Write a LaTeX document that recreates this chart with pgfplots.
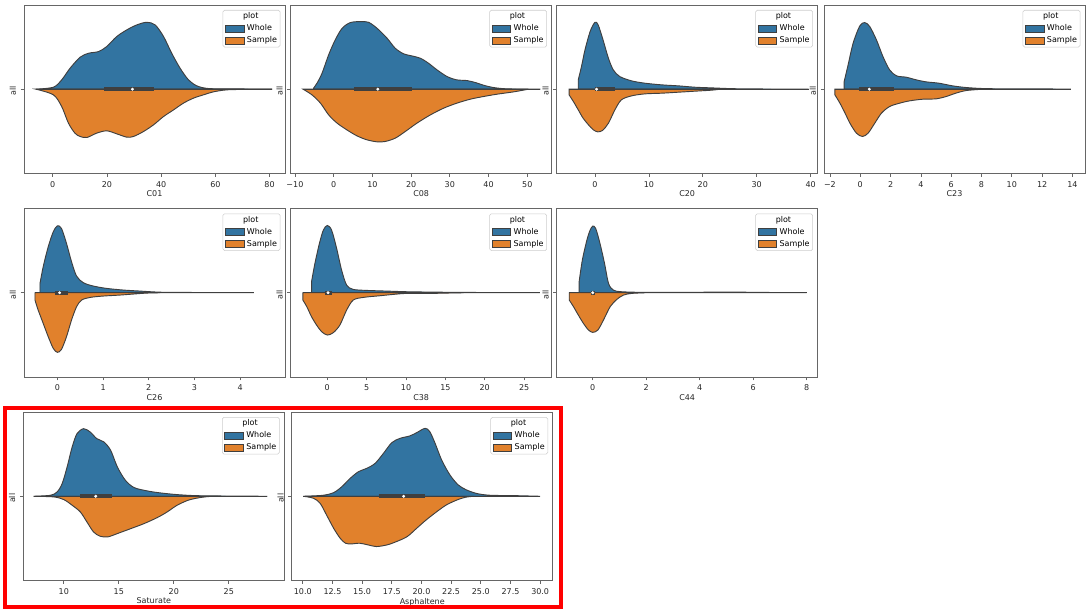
\documentclass[border=0pt]{standalone}
\usepackage{fontspec}
\setmainfont{DejaVu Sans}
\usepackage{pgfplots}
\pgfplotsset{compat=1.18}
\definecolor{cblue}{HTML}{3274A1}
\definecolor{corange}{HTML}{E1812C}
\definecolor{cedge}{HTML}{3F3F3F}
\pgfplotsset{
  vio/.style={
    scale only axis, width=195.75pt, height=126.4pt, anchor=south west,
    ymin=-253, ymax=253, ytick={0}, yticklabels={all},
    yticklabel style={rotate=90, anchor=south, xshift=-1.5pt},
    tick align=outside, major tick length=2.5pt,
    xtick pos=bottom, ytick pos=left,
    tick style={black!60, line width=0.5pt},
    axis line style={black!60, line width=0.6pt},
    /pgf/number format/assume math mode=true,
    tick label style={font=\fontsize{6}{7}\selectfont, text=black!85},
    label style={font=\fontsize{6}{7}\selectfont, text=black!85},
    xlabel style={yshift=4.3pt},
    legend style={at={(rel axis cs:0.982,0.97)}, anchor=north east, draw=black!20, fill=white,
      rounded corners=1.2pt, font=\fontsize{6}{7}\selectfont, inner xsep=1.5pt, inner ysep=1pt,
      row sep=1.3pt, nodes={inner sep=0.8pt}, cells={anchor=west},
      /tikz/every odd column/.append style={column sep=1.2pt}},
    legend image code/.code={\draw[#1, line width=0.5pt, sharp corners] (0pt,-2.6pt) rectangle (14pt,2.6pt);},
  },
  whole/.style={fill=cblue, draw=cedge, line width=0.7pt, smooth, tension=0.5},
  sample/.style={fill=corange, draw=cedge, line width=0.7pt, smooth, tension=0.5},
  whisk/.style={forget plot, draw=cedge, line width=0.9pt},
  boxb/.style={forget plot, draw=cedge, line width=2.8pt},
  med/.style={forget plot, only marks, mark=*, mark size=0.9pt, mark options={fill=white, draw=white}},
}
\begin{document}
\begin{tikzpicture}
\path[use as bounding box] (0,0) rectangle (816.75pt,-457.5pt);
% ---------------- C01
\begin{axis}[vio, at={(18pt,-130.1pt)}, xmin=-10.6, xmax=85.7, xtick={0,20,40,60,80}, xlabel={C01}]
\addlegendimage{empty legend}\addlegendentry{\hspace*{-2.9pt}plot}
\addplot[whole] coordinates {(-6.2,0) (0.25,6) (3.3,28) (6.4,63) (10.1,96) (13.2,108) (16.9,113) (19.9,128) (23.6,158) (27.3,178) (31,193) (34.7,201) (37.8,193) (40.9,158) (43.9,108) (47,63) (50.1,28) (53.2,10) (57.5,2) (66.7,1) (80.9,0)} \closedcycle;
\addlegendentry{Whole}
\addplot[sample] coordinates {(-6.15,0) (0.25,-17) (3.3,-52) (5.8,-102) (8.2,-132) (10.1,-142) (12.6,-145) (16.2,-132) (19.9,-125) (23.6,-134) (27.3,-144) (29.8,-142) (33.5,-127) (37.2,-107) (40.9,-82) (44.6,-62) (48.2,-42) (51.9,-27) (55.6,-17) (59.3,-8) (64.2,-2) (72,-0.5) (80.9,0)} \closedcycle;
\addlegendentry{Sample}
\addplot[whisk] coordinates {(-6.2,0) (80.9,0)};
\addplot[boxb] coordinates {(19,0) (37.4,0)};
\addplot[med] coordinates {(29.4,0)};
\end{axis}
% ---------------- C08
\begin{axis}[vio, at={(218pt,-130.1pt)}, xmin=-11.1, xmax=56.3, xtick={-10,0,10,20,30,40,50}, xticklabels={−10,0,10,20,30,40,50}, xlabel={C08}]
\addlegendimage{empty legend}\addlegendentry{\hspace*{-2.9pt}plot}
\addplot[whole] coordinates {(-5.2,3) (-4.3,18) (-3.0,48) (-1.3,103) (0.4,148) (2.2,183) (4.3,200) (6.9,203) (9.0,201) (11.2,183) (13.8,153) (15.9,123) (18.1,106) (20.2,100) (22.4,93) (24.5,78) (26.7,58) (29.3,38) (31.8,28) (34.4,26) (36.6,20) (38.7,12) (41.3,5) (44.8,1) (50.8,0.5) (53.4,0)} \closedcycle;
\addlegendentry{Whole}
\addplot[sample] coordinates {(-7.9,0) (-5.6,-17) (-3.4,-42) (-1.3,-77) (0.9,-102) (3.4,-122) (6.0,-140) (8.6,-152) (11.2,-158) (13.3,-157) (15.9,-147) (18.5,-127) (21.5,-102) (25.0,-77) (28.4,-57) (31.8,-42) (35.3,-30) (38.7,-22) (42.2,-15) (46.5,-8) (50.3,0)} \closedcycle;
\addlegendentry{Sample}
\addplot[whisk] coordinates {(-7.9,0) (53.4,0)};
\addplot[boxb] coordinates {(5.2,0) (20.2,0)};
\addplot[med] coordinates {(11.4,0)};
\end{axis}
% ---------------- C20
\begin{axis}[vio, at={(417.5pt,-130.1pt)}, xmin=-7.1, xmax=41.3, xtick={0,10,20,30,40}, xlabel={C20}]
\addlegendimage{empty legend}\addlegendentry{\hspace*{-2.9pt}plot}
\addplot[whole] coordinates {(-3.1,28) (-2.5,68) (-1.85,118) (-0.9,173) (0,201) (0.6,193) (1.5,148) (2.5,93) (3.4,58) (4.6,38) (6.8,25) (9.3,18) (12.4,13) (15.5,10) (18.5,6) (21.6,4) (24.7,2) (27.8,1) (34,0.5) (39.6,0)} \closedcycle;
\addlegendentry{Whole}
\addplot[sample] coordinates {(-4.8,-17) (-4.0,-37) (-3.1,-62) (-2.2,-87) (-1.2,-107) (-0.3,-122) (0.5,-128) (1.4,-124) (2.5,-102) (3.7,-62) (4.9,-32) (6.8,-20) (9.3,-14) (12.4,-12) (15.5,-9) (18.5,-6) (21.6,-3) (23.2,0)} \closedcycle;
\addlegendentry{Sample}
\addplot[whisk] coordinates {(-4.8,0) (39.6,0)};
\addplot[boxb] coordinates {(0,0) (3.7,0)};
\addplot[med] coordinates {(0.3,0)};
\end{axis}
% ---------------- C23
\begin{axis}[vio, at={(618pt,-130.1pt)}, xmin=-2.39, xmax=14.83, xtick={-2,0,2,4,6,8,10,12,14}, xticklabels={−2,0,2,4,6,8,10,12,14}, xlabel={C23}]
\addlegendimage{empty legend}\addlegendentry{\hspace*{-2.9pt}plot}
\addplot[whole] coordinates {(-1.06,23) (-0.8,73) (-0.47,138) (-0.03,190) (0.3,200) (0.63,188) (1.07,148) (1.5,98) (1.94,58) (2.4,40) (3.04,36) (3.7,28) (4.36,22) (5.2,18) (6.1,10) (7.0,5) (8.1,2) (9.8,1) (12.0,1) (13.9,0)} \closedcycle;
\addlegendentry{Whole}
\addplot[sample] coordinates {(-1.67,-17) (-1.34,-42) (-1.0,-72) (-0.68,-102) (-0.25,-132) (0.15,-142) (0.52,-132) (0.96,-102) (1.4,-72) (1.94,-52) (2.6,-42) (3.26,-35) (4.14,-30) (5.0,-29) (5.67,-22) (6.3,-12) (7.0,-4) (8.1,0)} \closedcycle;
\addlegendentry{Sample}
\addplot[whisk] coordinates {(-1.67,0) (13.9,0)};
\addplot[boxb] coordinates {(-0.07,0) (2.2,0)};
\addplot[med] coordinates {(0.6,0)};
\end{axis}
% ---------------- C26
\begin{axis}[vio, at={(18pt,-282.75pt)}, xmin=-0.73, xmax=4.98, xtick={0,1,2,3,4}, xlabel={C26}]
\addlegendimage{empty legend}\addlegendentry{\hspace*{-2.9pt}plot}
\addplot[whole] coordinates {(-0.38,28) (-0.31,78) (-0.2,138) (-0.09,183) (0,201) (0.09,193) (0.2,148) (0.31,93) (0.42,50) (0.57,30) (0.79,20) (1.08,13) (1.45,8) (1.81,5) (2.18,2) (2.54,1) (3.85,0.5) (4.3,0)} \closedcycle;
\addlegendentry{Whole}
\addplot[sample] coordinates {(-0.49,-22) (-0.42,-52) (-0.31,-92) (-0.2,-132) (-0.09,-167) (0,-179) (0.09,-170) (0.2,-132) (0.31,-82) (0.42,-42) (0.53,-22) (0.72,-14) (1.0,-10) (1.37,-7) (1.66,-4) (1.96,-1) (2.25,0)} \closedcycle;
\addlegendentry{Sample}
\addplot[whisk] coordinates {(-0.49,0) (4.3,0)};
\addplot[boxb] coordinates {(-0.05,0) (0.24,0)};
\addplot[med] coordinates {(0.05,0)};
\end{axis}
% ---------------- C38
\begin{axis}[vio, at={(218pt,-282.75pt)}, xmin=-4.65, xmax=28.5, xtick={0,5,10,15,20,25}, xlabel={C38}]
\addlegendimage{empty legend}\addlegendentry{\hspace*{-2.9pt}plot}
\addplot[whole] coordinates {(-2.0,33) (-1.57,88) (-1.0,148) (-0.5,188) (0,202) (0.55,188) (1.19,133) (1.82,68) (2.46,23) (3.3,10) (5.0,7) (7.5,5) (10.1,3) (13.1,2) (17.3,1) (27,0)} \closedcycle;
\addlegendentry{Whole}
\addplot[sample] coordinates {(-3.1,-22) (-2.6,-42) (-2.0,-72) (-1.36,-97) (-0.72,-117) (0,-127) (0.76,-120) (1.6,-97) (2.46,-52) (3.3,-22) (4.6,-14) (6.7,-9) (8.4,-5) (10.1,-2) (13.1,-2) (15.2,-1) (17.3,0)} \closedcycle;
\addlegendentry{Sample}
\addplot[whisk] coordinates {(-3.1,0) (27,0)};
\addplot[boxb] coordinates {(-0.3,0) (0.6,0)};
\addplot[med] coordinates {(0.1,0)};
\end{axis}
% ---------------- C44
\begin{axis}[vio, at={(417.5pt,-282.75pt)}, xmin=-1.35, xmax=8.41, xtick={0,2,4,6,8}, xlabel={C44}]
\addlegendimage{empty legend}\addlegendentry{\hspace*{-2.9pt}plot}
\addplot[whole] coordinates {(-0.51,33) (-0.39,98) (-0.22,158) (-0.1,188) (0,200) (0.11,193) (0.27,148) (0.44,88) (0.59,28) (0.77,8) (1.08,3) (1.96,1) (3.2,1) (5.07,2) (6.3,1) (8.0,0)} \closedcycle;
\addlegendentry{Whole}
\addplot[sample] coordinates {(-0.88,-22) (-0.72,-42) (-0.54,-67) (-0.35,-92) (-0.16,-112) (0,-119) (0.19,-112) (0.4,-82) (0.65,-42) (0.9,-20) (1.15,-7) (1.46,-2) (1.96,0)} \closedcycle;
\addlegendentry{Sample}
\addplot[whisk] coordinates {(-0.88,0) (8.0,0)};
\addplot[boxb] coordinates {(-0.05,0) (0.1,0)};
\addplot[med] coordinates {(0,0)};
\end{axis}
% ---------------- Saturate
\begin{axis}[vio, at={(17.5pt,-435.4pt)}, xmin=6.32, xmax=30.05, xtick={10,15,20,25}, xlabel={Saturate}]
\addlegendimage{empty legend}\addlegendentry{\hspace*{-2.9pt}plot}
\addplot[whole] coordinates {(7.26,0) (8.78,3) (9.39,13) (9.85,38) (10.3,88) (10.76,148) (11.2,188) (11.8,203) (12.4,193) (13.0,173) (13.65,163) (14.26,138) (14.87,88) (15.6,48) (16.4,26) (17.6,16) (18.8,10) (20.3,5) (21.9,2) (24,1) (28.5,0)} \closedcycle;
\addlegendentry{Whole}
\addplot[sample] coordinates {(7.26,0) (9.1,-2) (10,-10) (10.76,-27) (11.5,-47) (12.1,-77) (12.7,-107) (13.3,-120) (14.0,-122) (14.87,-112) (16.1,-97) (17.3,-82) (18.5,-64) (19.4,-47) (20.3,-27) (21.3,-12) (22.2,-5) (23.1,-1) (24,0)} \closedcycle;
\addlegendentry{Sample}
\addplot[whisk] coordinates {(7.26,0) (28.5,0)};
\addplot[boxb] coordinates {(11.5,0) (14.4,0)};
\addplot[med] coordinates {(12.9,0)};
\end{axis}
% ---------------- Asphaltene
\begin{axis}[vio, at={(218.8pt,-435.4pt)}, xmin=9.07, xmax=31.06, xtick={10,12.5,15,17.5,20,22.5,25,27.5,30}, xticklabels={10.0,12.5,15.0,17.5,20.0,22.5,25.0,27.5,30.0}, xlabel={Asphaltene}]
\addlegendimage{empty legend}\addlegendentry{\hspace*{-2.9pt}plot}
\addplot[whole] coordinates {(10.06,0) (11.7,3) (12.6,11) (13.3,29) (14.0,54) (14.7,74) (15.4,84) (16.1,99) (16.8,129) (17.5,161) (18.2,174) (19.0,181) (19.6,191) (20.3,204) (20.7,194) (21.15,159) (21.7,109) (22.4,64) (23.1,34) (23.8,19) (24.7,8) (25.8,3) (27.75,2) (30,0)} \closedcycle;
\addlegendentry{Whole}
\addplot[sample] coordinates {(10.06,0) (10.9,-6) (11.46,-21) (12.0,-56) (12.6,-96) (13.15,-126) (13.6,-141) (14.1,-143) (14.8,-141) (15.5,-146) (16.2,-151) (17.1,-146) (17.9,-136) (18.8,-121) (19.6,-96) (20.4,-71) (21.3,-46) (22.1,-26) (23.0,-11) (23.7,-3) (24.4,0)} \closedcycle;
\addlegendentry{Sample}
\addplot[whisk] coordinates {(10.06,0) (30,0)};
\addplot[boxb] coordinates {(16.4,0) (20.3,0)};
\addplot[med] coordinates {(18.5,0)};
\end{axis}
\draw[red, line width=3pt] (4pt,-306pt) rectangle (420.4pt,-455.6pt);
\end{tikzpicture}
\end{document}
